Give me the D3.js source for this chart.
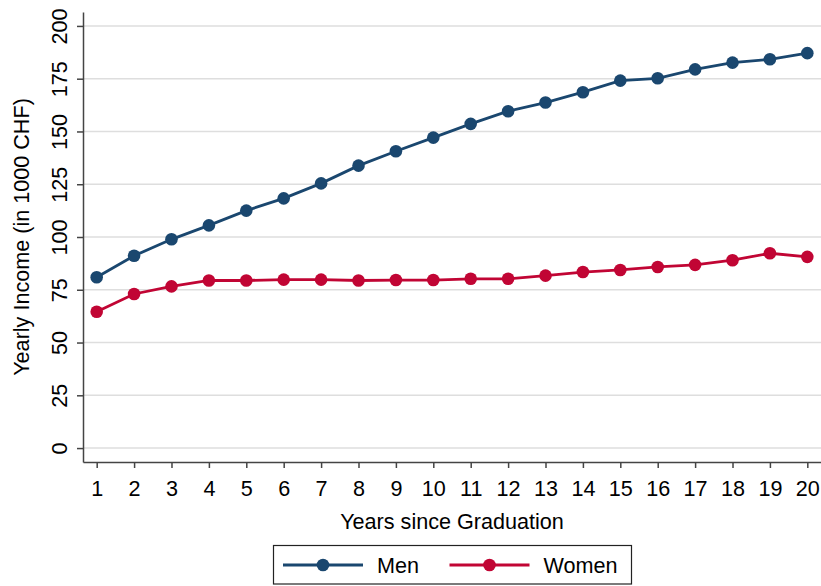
<!DOCTYPE html>
<html>
<head>
<meta charset="utf-8">
<script src="https://cdn.jsdelivr.net/npm/d3@7"></script>
<style>
  html, body { margin: 0; padding: 0; background: #fff; }
  svg { display: block; font-family: Arial, "Liberation Sans", sans-serif; }
</style>
</head>
<body>
<div id="chart"></div>
<script>
const years = d3.range(1, 21)
const men = [80.9, 91.1, 98.9, 105.5, 112.5, 118.3, 125.4, 133.8, 140.6, 147.1,
  153.6, 159.6, 163.7, 168.6, 174.1, 175.2, 179.4, 182.6, 184.2, 187.1]
const women = [64.6, 73.0, 76.6, 79.4, 79.4, 79.8, 79.8, 79.4, 79.6, 79.6,
  80.2, 80.2, 81.7, 83.4, 84.4, 85.8, 86.8, 89.0, 92.3, 90.6]
const yTicks = [0, 25, 50, 75, 100, 125, 150, 175, 200]
const seriesNames = ['Men', 'Women']
const seriesColors = ['#1a476f', '#c10534']

const w = 821
const h = 586
const fontSize = 21.6
const margin = { top: 12, right: 0, bottom: 124, left: 83 }

const svg = d3.select('#chart')
  .append('svg')
  .attr('width', w)
  .attr('height', h)

const x = d3.scaleLinear()
  .domain([0.634, 20.366])
  .range([margin.left, w - margin.right])

const y = d3.scaleLinear()
  .domain([-6.6, 206.6])
  .range([h - margin.bottom, margin.top])

// gridlines
svg.append('g')
  .selectAll('line')
  .data(yTicks)
  .join('line')
    .attr('x1', margin.left)
    .attr('x2', w - margin.right)
    .attr('y1', d => y(d))
    .attr('y2', d => y(d))
    .attr('stroke', '#dedede')
    .attr('stroke-width', 1.5)

// y axis
const yAxis = svg.append('g')
  .attr('transform', `translate(${margin.left},0)`)
  .call(d3.axisLeft(y).tickValues(yTicks).tickSize(6).tickSizeOuter(0))
yAxis.select('.domain').attr('stroke', '#444').attr('stroke-width', 1.5)
yAxis.selectAll('.tick line').attr('stroke', '#444').attr('stroke-width', 1.5)
yAxis.selectAll('.tick text')
  .attr('font-size', fontSize)
  .attr('fill', '#000')
  .attr('text-anchor', 'middle')
  .attr('transform', 'rotate(-90)')
  .attr('x', 0)
  .attr('y', -16)
  .attr('dy', '0')

// x axis
const xAxis = svg.append('g')
  .attr('transform', `translate(0,${h - margin.bottom})`)
  .call(d3.axisBottom(x).tickValues(years).tickFormat(d3.format('d')).tickSize(6).tickSizeOuter(0).tickPadding(13))
xAxis.select('.domain').attr('stroke', '#444').attr('stroke-width', 1.5)
xAxis.selectAll('.tick line').attr('stroke', '#444').attr('stroke-width', 1.5)
xAxis.selectAll('.tick text').attr('font-size', fontSize).attr('fill', '#000')

// axis titles
svg.append('text')
  .attr('x', (margin.left + w) / 2)
  .attr('y', 529)
  .attr('text-anchor', 'middle')
  .attr('font-size', fontSize)
  .text('Years since Graduation')

svg.append('text')
  .attr('transform', `translate(29, ${y(100)}) rotate(-90)`)
  .attr('text-anchor', 'middle')
  .attr('font-size', fontSize)
  .text('Yearly Income (in 1000 CHF)')

// series
const line = d3.line()
  .x((d, i) => x(years[i]))
  .y(d => y(d))

;[men, women].forEach((values, k) => {
  const g = svg.append('g')
  g.append('path')
    .datum(values)
    .attr('fill', 'none')
    .attr('stroke', seriesColors[k])
    .attr('stroke-width', 2.8)
    .attr('d', line)
  g.selectAll('circle')
    .data(values)
    .join('circle')
      .attr('cx', (d, i) => x(years[i]))
      .attr('cy', d => y(d))
      .attr('r', 6.3)
      .attr('fill', seriesColors[k])
})

// legend
const legend = svg.append('g')
legend.append('rect')
  .attr('x', 273.5)
  .attr('y', 545.5)
  .attr('width', 358)
  .attr('height', 38.5)
  .attr('fill', '#fff')
  .attr('stroke', '#222')
  .attr('stroke-width', 1.2)

const legendItems = legend.selectAll('g.item')
  .data(seriesNames)
  .join('g')
    .attr('class', 'item')
    .attr('transform', (d, i) => `translate(${i === 0 ? 283 : 449.5}, 565)`)

legendItems.append('line')
  .attr('x1', 0)
  .attr('x2', 80)
  .attr('stroke', (d, i) => seriesColors[i])
  .attr('stroke-width', 2.8)
legendItems.append('circle')
  .attr('cx', 40)
  .attr('r', 6.3)
  .attr('fill', (d, i) => seriesColors[i])
legendItems.append('text')
  .attr('x', 94)
  .attr('dy', '0.35em')
  .attr('font-size', fontSize)
  .text(d => d)
</script>
</body>
</html>
